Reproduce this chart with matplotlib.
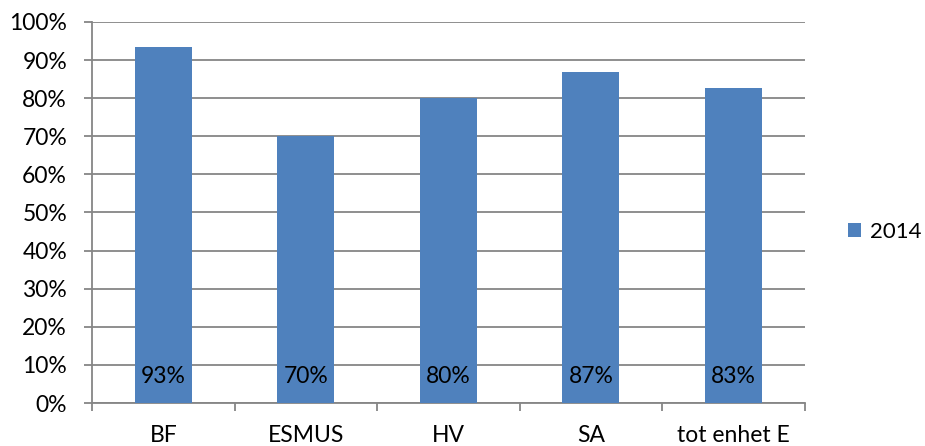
import matplotlib.pyplot as plt
import numpy as np

categories = ["BF", "ESMUS", "HV", "SA", "tot enhet E"]
values_2014 = [0.934, 0.70, 0.80, 0.869, 0.826]
value_labels = ["93%", "70%", "80%", "87%", "83%"]
series_name = "2014"

plt.rcParams["font.family"] = ["Lato", "DejaVu Sans"]

fig = plt.figure(figsize=(9.25, 4.46), dpi=100)
ax = fig.add_axes([0.0995, 0.0964, 0.7705, 0.8543])

x = np.arange(len(categories))
bars = ax.bar(x, values_2014, width=0.4, color="#4F81BD", label=series_name, zorder=3)

for xi, lab in zip(x, value_labels):
    ax.annotate(lab, (xi, 0), xytext=(0, 19), textcoords="offset points",
                ha="center", va="center", fontsize=16.5, color="black", zorder=4)

ax.set_xlim(-0.5, len(categories) - 0.5)
ax.set_ylim(0, 1.0)
ax.set_yticks(np.arange(0, 1.01, 0.1))
ax.set_yticklabels([f"{int(round(v * 100))}%" for v in np.arange(0, 1.01, 0.1)])
ax.yaxis.grid(True, color="#868686", linewidth=1.3, zorder=0)

ax.set_xticks(np.arange(-0.5, len(categories), 1.0))
ax.set_xticklabels([])
ax.set_xticks(x, minor=True)
ax.set_xticklabels(categories, minor=True)
ax.tick_params(axis="x", which="minor", length=0, pad=16, labelsize=16.5)
ax.tick_params(axis="x", which="major", length=6, color="#868686", width=1.3)
ax.tick_params(axis="y", length=6, color="#868686", width=1.3, labelsize=16.5, pad=12)

for s in ["top", "right"]:
    ax.spines[s].set_visible(False)
for s in ["left", "bottom"]:
    ax.spines[s].set_color("#868686")
    ax.spines[s].set_linewidth(1.3)

ax.legend(loc="center left", bbox_to_anchor=(1.06, 0.45), frameon=False,
          fontsize=16, handlelength=0.6, handleheight=0.6, handletextpad=0.4,
          borderaxespad=0, borderpad=0)

fig.savefig("out.png", dpi=100)
